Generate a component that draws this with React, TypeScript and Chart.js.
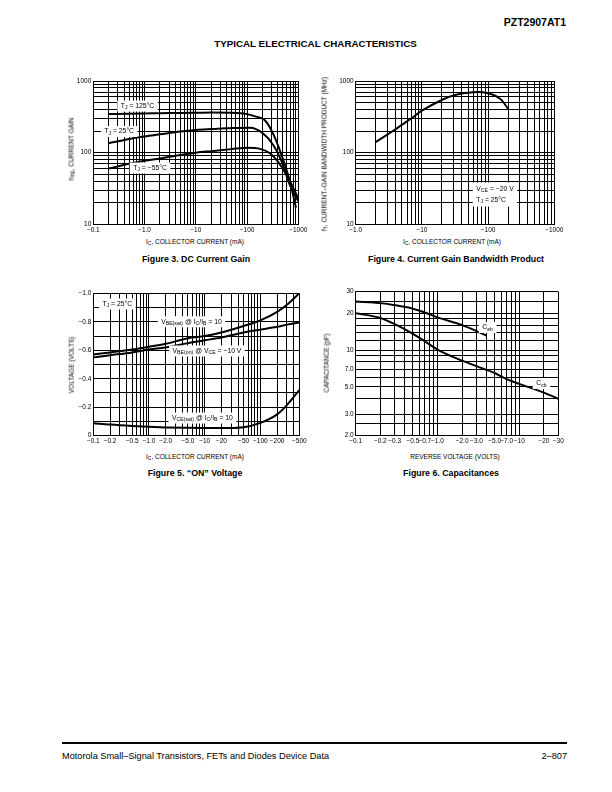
import React, { useEffect, useRef } from 'react';
import { Chart, registerables } from 'chart.js';

Chart.register(...registerables);

const FONT = '"Liberation Sans", Arial, Helvetica, sans-serif';

// ---------- Figure 3: DC current gain (collector current magnitude in mA) ----------
const fig3XLabelValues = [0.1, 1, 10, 100, 1000];
const fig3XLabels = ['−0.1', '−1.0', '−10', '−100', '−1000'];
const fig3YLabelValues = [10, 100, 1000];
const fig3YLabels = ['10', '100', '1000'];
const hfe125Ic = [0.2, 0.5, 1, 2, 5, 10, 20, 50, 100, 150, 220, 320, 470, 690, 900];
const hfe125 = [345, 350, 353, 355, 358, 360, 362, 360, 345, 318, 285, 186, 93, 39, 17];
const hfe25Ic = [0.2, 0.5, 1, 2, 5, 10, 20, 50, 115, 200, 325, 475, 690, 1000];
const hfe25 = [135, 155, 168, 180, 197, 207, 213, 220, 223, 188, 128, 75, 35, 21];
const hfeM55Ic = [0.2, 0.5, 1, 2, 5, 10, 20, 50, 100, 180, 280, 400, 600, 800, 1000];
const hfeM55 = [60, 70, 77, 83, 93, 100, 105, 112, 117, 113, 98, 75, 48, 32, 23];

// ---------- Figure 4: current gain bandwidth product ----------
const fig4XLabelValues = [1, 10, 100, 1000];
const fig4XLabels = ['−1.0', '−10', '−100', '−1000'];
const fig4YLabelValues = [10, 100, 1000];
const fig4YLabels = ['10', '100', '1000'];
const ftIc = [2, 3, 4, 5, 7, 10, 20, 30, 50, 70, 100, 130, 160, 200];
const ftMHz = [140, 178, 212, 245, 302, 385, 543, 630, 685, 700, 675, 620, 540, 410];

// ---------- Figure 5: "ON" voltage ----------
const fig5XLabelValues = [0.1, 0.2, 0.5, 1, 2, 5, 10, 20, 50, 100, 200, 500];
const fig5XLabels = ['−0.1', '−0.2', '−0.5', '−1.0', '−2.0', '−5.0', '−10', '−20', '−50', '−100', '−200', '−500'];
const fig5YLabelValues = [-1.0, -0.8, -0.6, -0.4, -0.2, 0];
const fig5YLabels = ['−1.0', '−0.8', '−0.6', '−0.4', '−0.2', '0'];
const onIc = [0.1, 0.2, 0.5, 1, 2, 5, 10, 20, 50, 100, 200, 300, 500];
const vbeSat = [-0.57, -0.585, -0.605, -0.625, -0.645, -0.685, -0.70, -0.725, -0.77, -0.81, -0.87, -0.92, -1.0];
const vbeOn = [-0.55, -0.565, -0.585, -0.605, -0.62, -0.65, -0.67, -0.69, -0.725, -0.745, -0.765, -0.78, -0.795];
const vceSat = [-0.088, -0.078, -0.068, -0.062, -0.058, -0.055, -0.054, -0.054, -0.06, -0.09, -0.15, -0.215, -0.32];

// ---------- Figure 6: capacitances (reverse voltage magnitude) ----------
const fig6XLabelValues = [0.1, 0.2, 0.3, 0.5, 0.7, 1, 2, 3, 5, 7, 10, 20, 30];
const fig6XLabels = ['−0.1', '−0.2', '−0.3', '−0.5', '−0.7', '−1.0', '−2.0', '−3.0', '−5.0', '−7.0', '−10', '−20', '−30'];
const fig6YLabelValues = [2, 3, 5, 7, 10, 20, 30];
const fig6YLabels = ['2.0', '3.0', '5.0', '7.0', '10', '20', '30'];
const fig6YGrid = [2, 2.5, 3, 4, 5, 6, 7, 8, 9, 10, 12, 14, 16, 18, 20, 25, 30];
const cebV = [0.1, 0.2, 0.3, 0.5, 0.7, 1, 2, 3, 4];
const cebPF = [25, 24.2, 23.3, 21.8, 20.3, 18.5, 16, 14.3, 13.1];
const cobV = [0.1, 0.2, 0.3, 0.5, 0.7, 1, 2, 3, 5, 7, 10, 20, 30];
const cobPF = [20, 18.3, 16.3, 13.6, 11.8, 10.1, 8.2, 7.4, 6.5, 5.8, 5.3, 4.5, 4.0];

function logGrid(min: number, max: number): number[] {
  const out: number[] = [];
  const e0 = Math.floor(Math.log10(min) + 1e-9);
  const e1 = Math.ceil(Math.log10(max) - 1e-9);
  for (let e = e0; e <= e1; e++) {
    for (let m = 1; m <= 9; m++) {
      const v = Number((m * Math.pow(10, e)).toPrecision(6));
      if (v >= min - 1e-12 && v <= max + 1e-9) out.push(v);
    }
  }
  if (out[out.length - 1] < max) out.push(max);
  return out;
}

function linGrid(min: number, max: number, step: number): number[] {
  const out: number[] = [];
  const n = Math.round((max - min) / step);
  for (let i = 0; i <= n; i++) out.push(Number((min + i * step).toFixed(6)));
  return out;
}

type Seg = [string, boolean?];
type Note = { x: number; y: number; lines: Seg[][] };
type Axis = {
  type: 'logarithmic' | 'linear';
  min: number;
  max: number;
  grid: number[];
  labelValues: number[];
  labels: string[];
  reverse?: boolean;
};
type Curve = { x: number[]; y: number[] };

function findLabel(ax: Axis, v: number): string {
  for (let i = 0; i < ax.labelValues.length; i++) {
    const lv = ax.labelValues[i];
    if (ax.type === 'logarithmic') {
      if (Math.abs(Math.log10(v) - Math.log10(lv)) < 1e-6) return ax.labels[i];
    } else if (Math.abs(v - lv) < 1e-6) return ax.labels[i];
  }
  return '';
}

function notesPlugin(notes: Note[]) {
  return {
    id: 'notes',
    afterDatasetsDraw(chart: any) {
      const ctx = chart.ctx;
      const xs = chart.scales.x;
      const ys = chart.scales.y;
      const big = `6.8px ${FONT}`;
      const small = `5.2px ${FONT}`;
      notes.forEach((n) => {
        const cx = xs.getPixelForValue(n.x);
        const cy = ys.getPixelForValue(n.y);
        const widths = n.lines.map((line) =>
          line.reduce((w, [t, sub]) => {
            ctx.font = sub ? small : big;
            return w + ctx.measureText(t).width;
          }, 0)
        );
        const lh = n.lines.length > 1 ? 11 : 9;
        const padX = 3.5;
        const padY = 1;
        const bw = Math.max(...widths) + 2 * padX;
        const bh = n.lines.length * lh + 2 * padY;
        const left = cx - bw / 2;
        const top = cy - bh / 2;
        ctx.save();
        ctx.fillStyle = '#fff';
        ctx.fillRect(left, top, bw, bh);
        ctx.fillStyle = '#000';
        ctx.textBaseline = 'middle';
        ctx.textAlign = 'left';
        n.lines.forEach((line, i) => {
          let x = left + padX;
          const y = top + padY + lh * i + lh / 2;
          line.forEach(([t, sub]) => {
            ctx.font = sub ? small : big;
            ctx.fillText(t, x, sub ? y + 2 : y);
            x += ctx.measureText(t).width;
          });
        });
        ctx.restore();
      });
    },
  };
}

function axisOptions(ax: Axis, isX: boolean, size: number) {
  return {
    type: ax.type,
    min: ax.min,
    max: ax.max,
    reverse: !!ax.reverse,
    afterBuildTicks: (s: any) => {
      s.ticks = ax.grid.map((v) => ({ value: v }));
    },
    afterFit: (s: any) => {
      if (isX) s.height = size;
      else s.width = size;
    },
    ticks: {
      autoSkip: false,
      maxRotation: 0,
      minRotation: 0,
      padding: 2,
      color: '#000',
      font: { family: FONT, size: 6.5 },
      callback: (v: any) => findLabel(ax, Number(v)),
    },
    grid: { color: '#000', lineWidth: 1, drawTicks: false },
    border: { color: '#000', width: 1 },
  };
}

type PlotProps = {
  left: number;
  top: number;
  width: number;
  height: number;
  padTop: number;
  padRight: number;
  yWidth: number;
  xHeight: number;
  xAxis: Axis;
  yAxis: Axis;
  curves: Curve[];
  notes: Note[];
};

function Plot(p: PlotProps) {
  const ref = useRef<HTMLCanvasElement | null>(null);
  useEffect(() => {
    if (!ref.current) return;
    const chart = new Chart(ref.current, {
      type: 'scatter',
      data: {
        datasets: p.curves.map((c) => ({
          data: c.x.map((x, i) => ({ x, y: c.y[i] })),
          showLine: true,
          borderColor: '#000',
          borderWidth: 2,
          pointRadius: 0,
          cubicInterpolationMode: 'monotone',
          fill: false,
        })),
      },
      options: {
        responsive: false,
        animation: false,
        events: [],
        layout: { padding: { top: p.padTop, right: p.padRight, left: 0, bottom: 0 } },
        plugins: { legend: { display: false }, tooltip: { enabled: false } },
        scales: {
          x: axisOptions(p.xAxis, true, p.xHeight),
          y: axisOptions(p.yAxis, false, p.yWidth),
        },
      } as any,
      plugins: [notesPlugin(p.notes)],
    } as any);
    return () => chart.destroy();
  }, []);
  return (
    <canvas
      ref={ref}
      width={p.width}
      height={p.height}
      style={{ position: 'absolute', left: p.left, top: p.top, width: p.width, height: p.height }}
    />
  );
}

function Sub({ children }: { children: React.ReactNode }) {
  return <span style={{ fontSize: '0.75em', position: 'relative', top: '0.3em' }}>{children}</span>;
}

function Txt(props: {
  x: number;
  y: number;
  size: number;
  bold?: boolean;
  weight?: number;
  rotate?: boolean;
  align?: 'center' | 'left' | 'right';
  children: React.ReactNode;
}) {
  const align = props.align || 'center';
  const tx = align === 'center' ? '-50%' : align === 'left' ? '0' : '-100%';
  return (
    <div
      style={{
        position: 'absolute',
        left: props.x,
        top: props.y,
        transform: `translate(${tx}, -50%)${props.rotate ? ' rotate(-90deg)' : ''}`,
        fontFamily: FONT,
        fontSize: props.size,
        fontWeight: props.weight || (props.bold ? 700 : 400),
        whiteSpace: 'nowrap',
        lineHeight: 1,
        color: '#000',
      }}
    >
      {props.children}
    </div>
  );
}

export default function App() {
  const fig3X: Axis = { type: 'logarithmic', min: 0.1, max: 1000, grid: logGrid(0.1, 1000), labelValues: fig3XLabelValues, labels: fig3XLabels };
  const fig3Y: Axis = { type: 'logarithmic', min: 10, max: 1000, grid: logGrid(10, 1000), labelValues: fig3YLabelValues, labels: fig3YLabels };
  const fig4X: Axis = { type: 'logarithmic', min: 1, max: 1000, grid: logGrid(1, 1000), labelValues: fig4XLabelValues, labels: fig4XLabels };
  const fig4Y: Axis = { type: 'logarithmic', min: 10, max: 1000, grid: logGrid(10, 1000), labelValues: fig4YLabelValues, labels: fig4YLabels };
  const fig5X: Axis = { type: 'logarithmic', min: 0.1, max: 500, grid: logGrid(0.1, 500), labelValues: fig5XLabelValues, labels: fig5XLabels };
  const fig5Y: Axis = { type: 'linear', min: -1.0, max: 0, grid: linGrid(-1.0, 0, 0.1), labelValues: fig5YLabelValues, labels: fig5YLabels, reverse: true };
  const fig6X: Axis = { type: 'logarithmic', min: 0.1, max: 30, grid: logGrid(0.1, 30), labelValues: fig6XLabelValues, labels: fig6XLabels };
  const fig6Y: Axis = { type: 'logarithmic', min: 2, max: 30, grid: fig6YGrid, labelValues: fig6YLabelValues, labels: fig6YLabels };

  return (
    <div style={{ position: 'absolute', left: 0, top: 0, width: 612, height: 792, background: '#fff', overflow: 'hidden' }}>
      <Txt x={566} y={22} size={10.5} weight={900} align="right">PZT2907AT1</Txt>
      <Txt x={315.5} y={44} size={9.8} bold>TYPICAL ELECTRICAL CHARACTERISTICS</Txt>

      {/* Figure 3 */}
      <Plot
        left={60} top={70} width={250} height={165}
        padTop={11} padRight={11.7} yWidth={33.3} xHeight={10.7}
        xAxis={fig3X} yAxis={fig3Y}
        curves={[{ x: hfe125Ic, y: hfe125 }, { x: hfe25Ic, y: hfe25 }, { x: hfeM55Ic, y: hfeM55 }]}
        notes={[
          { x: 0.73, y: 447, lines: [[['T'], ['J', true], [' = 125°C']]] },
          { x: 0.32, y: 197, lines: [[['T'], ['J', true], [' = 25°C']]] },
          { x: 1.28, y: 61, lines: [[['T'], ['J', true], [' = −55°C']]] },
        ]}
      />
      <Txt x={195} y={242} size={6.5}>I<Sub>C</Sub>, COLLECTOR CURRENT (mA)</Txt>
      <Txt x={71.5} y={149} size={6.5} rotate>h<Sub>FE</Sub>, CURRENT GAIN</Txt>
      <Txt x={196} y={258.5} size={8.8} bold>Figure 3. DC Current Gain</Txt>

      {/* Figure 4 */}
      <Plot
        left={322} top={70} width={244} height={165}
        padTop={11} padRight={11.7} yWidth={33.7} xHeight={10.7}
        xAxis={fig4X} yAxis={fig4Y}
        curves={[{ x: ftIc, y: ftMHz }]}
        notes={[
          { x: 127, y: 26, lines: [[['V'], ['CE', true], [' = −20 V']], [['T'], ['J', true], [' = 25°C']]] },
        ]}
      />
      <Txt x={452} y={242} size={6.5}>I<Sub>C</Sub>, COLLECTOR CURRENT (mA)</Txt>
      <Txt x={325} y={154} size={6.5} rotate>f<Sub>T</Sub>, CURRENT–GAIN BANDWIDTH PRODUCT (MHz)</Txt>
      <Txt x={456} y={258.5} size={8.8} bold>Figure 4. Current Gain Bandwidth Product</Txt>

      {/* Figure 5 */}
      <Plot
        left={60} top={283} width={250} height={165}
        padTop={10.3} padRight={10.7} yWidth={33.3} xHeight={12.3}
        xAxis={fig5X} yAxis={fig5Y}
        curves={[{ x: onIc, y: vbeSat }, { x: onIc, y: vbeOn }, { x: onIc, y: vceSat }]}
        notes={[
          { x: 0.27, y: -0.925, lines: [[['T'], ['J', true], [' = 25°C']]] },
          { x: 5.8, y: -0.8, lines: [[['V'], ['BE(sat)', true], [' @ I'], ['C', true], ['/I'], ['B', true], [' = 10']]] },
          { x: 11, y: -0.595, lines: [[['V'], ['BE(on)', true], [' @ V'], ['CE', true], [' = −10 V']]] },
          { x: 9.1, y: -0.124, lines: [[['V'], ['CE(sat)', true], [' @ I'], ['C', true], ['/I'], ['B', true], [' = 10']]] },
        ]}
      />
      <Txt x={195} y={456.5} size={6.5}>I<Sub>C</Sub>, COLLECTOR CURRENT (mA)</Txt>
      <Txt x={71.5} y={365} size={6.5} rotate>VOLTAGE (VOLTS)</Txt>
      <Txt x={195} y={473} size={8.8} bold>Figure 5. “ON” Voltage</Txt>

      {/* Figure 6 */}
      <Plot
        left={322} top={281} width={248} height={167}
        padTop={10.7} padRight={11.7} yWidth={33.7} xHeight={12.3}
        xAxis={fig6X} yAxis={fig6Y}
        curves={[{ x: cebV, y: cebPF }, { x: cobV, y: cobPF }]}
        notes={[
          { x: 4.1, y: 15.3, lines: [[['C'], ['eb', true]]] },
          { x: 18.7, y: 5.34, lines: [[['C'], ['cb', true]]] },
        ]}
      />
      <Txt x={455} y={456.5} size={6.5}>REVERSE VOLTAGE (VOLTS)</Txt>
      <Txt x={327} y={363} size={6.5} rotate>CAPACITANCE (pF)</Txt>
      <Txt x={451} y={473} size={8.8} bold>Figure 6. Capacitances</Txt>

      {/* Footer */}
      <div style={{ position: 'absolute', left: 62, top: 742, width: 505, height: 2, background: '#000' }} />
      <Txt x={62} y={757} size={9.2} align="left">Motorola Small–Signal Transistors, FETs and Diodes Device Data</Txt>
      <Txt x={567} y={757} size={9.2} align="right">2–807</Txt>
    </div>
  );
}
